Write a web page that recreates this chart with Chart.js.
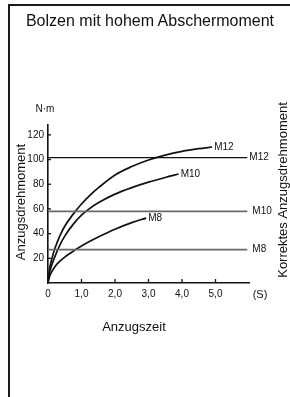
<!DOCTYPE html>
<html>
<head>
<meta charset="utf-8">
<script src="https://cdn.jsdelivr.net/npm/chart.js@4.4.1/dist/chart.umd.min.js"></script>
<style>
  html, body { margin: 0; padding: 0; background: #fff; }
  #wrap { position: relative; width: 290px; height: 397px; overflow: hidden;
          font-family: "Liberation Sans", Arial, sans-serif; color: #111; }
  #frame { position: absolute; left: 8px; top: 4px; width: 290px; height: 400px;
           border-left: 2px solid #1a1a1a; border-top: 2px solid #1a1a1a; }
  canvas { position: absolute; left: 0; top: 0; }
  .txt { position: absolute; white-space: nowrap; line-height: 1; transform: translate(-50%, -50%); }
</style>
</head>
<body>
<div id="wrap">
  <div id="frame"></div>
  <canvas id="c" width="290" height="397"></canvas>
  <div class="txt" style="left:150px;top:21px;font-size:16px;">Bolzen mit hohem Abschermoment</div>
  <div class="txt" style="left:45px;top:109px;font-size:10px;">N·m</div>
  <div class="txt" style="left:134px;top:326px;font-size:13px;">Anzugszeit</div>
  <div class="txt" style="left:260px;top:294px;font-size:11px;">(S)</div>
</div>
<script>
// tightening time (s) vs torque (N·m)
const m12Time   = [0, 0.05, 0.1, 0.2, 0.35, 0.5, 0.8, 1.0, 1.25, 1.5, 2.0, 2.5, 3.0, 3.5, 4.0, 4.5, 4.9];
const m12Torque = [2, 12, 18, 27.5, 38, 46, 57.5, 64, 71, 77, 87.5, 94.3, 99.6, 103.6, 106.6, 108.8, 110.2];
const m10Time   = [0, 0.05, 0.1, 0.2, 0.35, 0.5, 0.75, 1.0, 1.25, 1.5, 2.0, 2.5, 3.0, 3.5, 3.9];
const m10Torque = [2, 9, 13.5, 21, 30.5, 38, 47.5, 55, 60.5, 65, 72, 77.3, 81.7, 85.5, 88.3];
const m8Time    = [0, 0.05, 0.1, 0.2, 0.35, 0.5, 0.78, 1.0, 1.25, 1.5, 2.0, 2.5, 2.93];
const m8Torque  = [0, 5.5, 8.5, 13, 17.5, 21, 26.3, 30, 33.8, 37.3, 43.6, 48.9, 52.6];
const curveNames = ['M12', 'M10', 'M8'];

// correct tightening torque reference lines
const refNames  = ['M12', 'M10', 'M8'];
const refTorque = [101.5, 58, 27];
const refSpan   = [0, 5.95];

const xTicks = [0, 1, 2, 3, 4, 5];
const yTicks = [20, 40, 60, 80, 100, 120];

const yTitle = 'Anzugsdrehmoment';
const y2Title = 'Korrektes Anzugsdrehmoment';

const pts = (xs, ys) => xs.map((x, i) => ({ x, y: ys[i] }));

const curves = [
  [m12Time, m12Torque], [m10Time, m10Torque], [m8Time, m8Torque],
].map(([xs, ys], i) => ({
  label: curveNames[i],
  data: pts(xs, ys),
  borderColor: '#111',
  borderWidth: 1.7,
  pointRadius: 0,
  cubicInterpolationMode: 'monotone',
  endLabel: curveNames[i],
}));

const refs = refTorque.map((v, i) => ({
  label: 'ref ' + refNames[i],
  data: refSpan.map(x => ({ x, y: v })),
  borderColor: i === 0 ? '#111' : '#6a6a6a',
  borderWidth: i === 0 ? 1.2 : 1.6,
  pointRadius: 0,
  endLabel: refNames[i],
  endGap: i === 0 ? 2 : 5,
}));

// inward tick marks, end labels, side titles
const extras = {
  id: 'extras',
  afterDatasetsDraw(chart) {
    const { ctx, scales: { x, y } } = chart;
    ctx.save();
    ctx.strokeStyle = '#111';
    ctx.lineWidth = 1.3;
    xTicks.slice(1).forEach(v => {
      const px = x.getPixelForValue(v);
      ctx.beginPath(); ctx.moveTo(px, y.bottom); ctx.lineTo(px, y.bottom - 4); ctx.stroke();
    });
    yTicks.forEach(v => {
      const py = y.getPixelForValue(v);
      ctx.beginPath(); ctx.moveTo(x.left, py); ctx.lineTo(x.left + 3, py); ctx.stroke();
    });
    ctx.fillStyle = '#111';
    ctx.font = '10px "Liberation Sans", Arial, sans-serif';
    ctx.textBaseline = 'middle';
    chart.data.datasets.forEach(ds => {
      const last = ds.data[ds.data.length - 1];
      const px = x.getPixelForValue(last.x) + (ds.endGap || 2);
      const py = y.getPixelForValue(last.y);
      ctx.fillText(ds.endLabel, px, py);
    });

    ctx.font = '13px "Liberation Sans", Arial, sans-serif';
    ctx.textAlign = 'center';
    ctx.textBaseline = 'alphabetic';
    ctx.save();
    ctx.translate(25, 202); ctx.rotate(-Math.PI / 2);
    ctx.fillText(yTitle, 0, 0);
    ctx.restore();
    ctx.save();
    ctx.translate(287, 190); ctx.rotate(-Math.PI / 2);
    ctx.fillText(y2Title, 0, 0);
    ctx.restore();
    ctx.restore();
  },
};

Chart.defaults.font.family = '"Liberation Sans", Arial, sans-serif';
Chart.defaults.color = '#111';

new Chart(document.getElementById('c'), {
  type: 'line',
  data: { datasets: [...refs, ...curves] },
  options: {
    responsive: false,
    animation: false,
    layout: { padding: { left: 10, right: 41, top: 125, bottom: 94 } },
    plugins: { legend: { display: false }, tooltip: { enabled: false } },
    scales: {
      x: {
        type: 'linear', min: 0, max: 6,
        grid: { display: false, drawTicks: false },
        border: { color: '#111', width: 1.6 },
        afterFit: (s) => { s.height = 20; },
        afterBuildTicks: (s) => { s.ticks = xTicks.map(v => ({ value: v })); },
        ticks: {
          padding: 5, maxRotation: 0, autoSkip: false,
          font: { size: 10 },
          callback: (v) => v === 0 ? '0' : v.toFixed(1).replace('.', ','),
        },
      },
      y: {
        type: 'linear', min: 0, max: 128,
        grid: { display: false, drawTicks: false },
        border: { color: '#111', width: 1.6 },
        afterFit: (s) => { s.width = 38; },
        afterBuildTicks: (s) => { s.ticks = yTicks.map(v => ({ value: v })); },
        ticks: { padding: 4, autoSkip: false, font: { size: 10 } },
      },
    },
  },
  plugins: [extras],
});
</script>
</body>
</html>
